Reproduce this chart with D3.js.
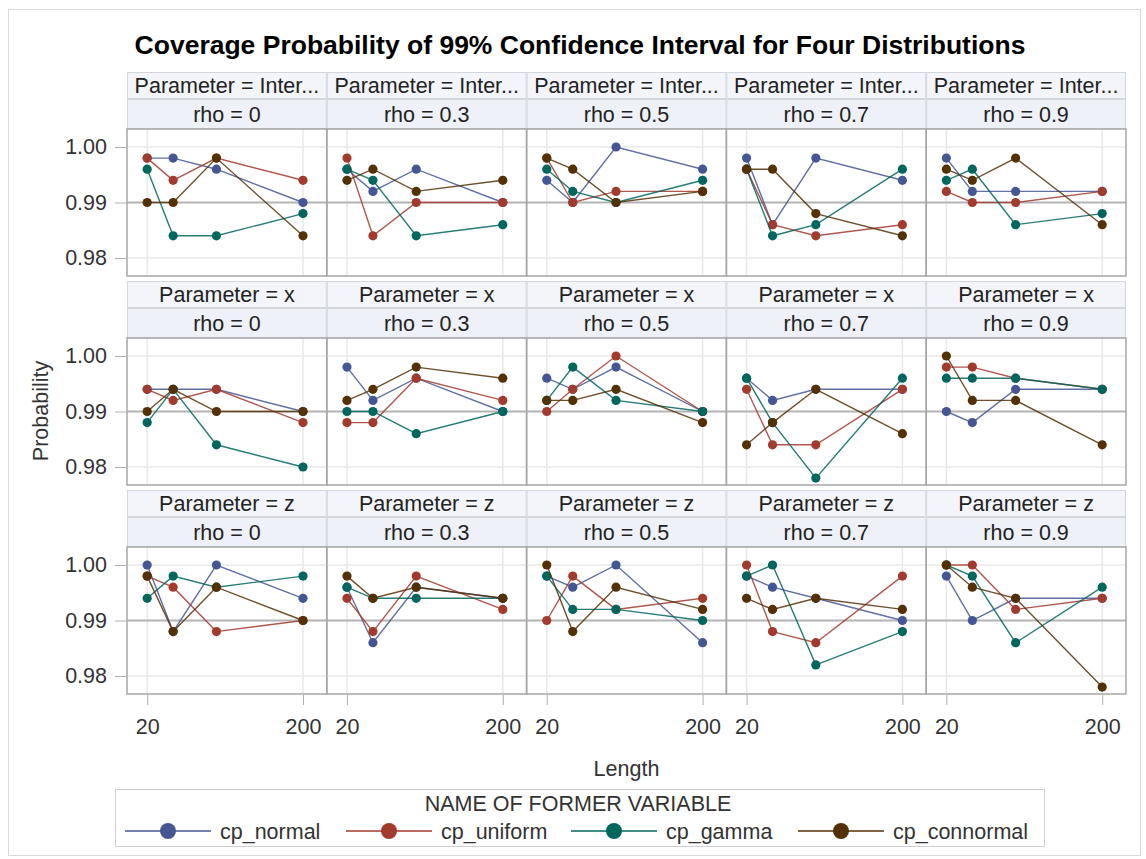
<!DOCTYPE html>
<html>
<head>
<meta charset="utf-8">
<script src="https://cdn.jsdelivr.net/npm/d3@7"></script>
<style>
  body { margin: 0; background: #fff; }
  text { font-family: "Liberation Sans", Arial, sans-serif; }
</style>
</head>
<body>
<div id="chart"></div>
<script>
// Data
var lengths = [20, 50, 100, 200];
var parameters = ["Intercept", "x", "z"];
var rhos = [0, 0.3, 0.5, 0.7, 0.9];
var seriesNames = ["cp_normal", "cp_uniform", "cp_gamma", "cp_connormal"];
var xTicks = [20, 200];
var yTicks = [0.98, 0.99, 1.00];

// each array: [parameter][rho] -> value at each length
var cpNormal = [
  [[0.998, 0.998, 0.996, 0.990], [0.996, 0.992, 0.996, 0.990], [0.994, 0.990, 1.000, 0.996], [0.998, 0.986, 0.998, 0.994], [0.998, 0.992, 0.992, 0.992]],
  [[0.994, 0.994, 0.994, 0.990], [0.998, 0.992, 0.996, 0.990], [0.996, 0.994, 0.998, 0.990], [0.996, 0.992, 0.994, 0.994], [0.990, 0.988, 0.994, 0.994]],
  [[1.000, 0.988, 1.000, 0.994], [0.996, 0.986, 0.996, 0.994], [0.998, 0.996, 1.000, 0.986], [0.998, 0.996, 0.994, 0.990], [0.998, 0.990, 0.994, 0.994]]
];
var cpUniform = [
  [[0.998, 0.994, 0.998, 0.994], [0.998, 0.984, 0.990, 0.990], [0.998, 0.990, 0.992, 0.992], [0.996, 0.986, 0.984, 0.986], [0.992, 0.990, 0.990, 0.992]],
  [[0.994, 0.992, 0.994, 0.988], [0.988, 0.988, 0.996, 0.992], [0.990, 0.994, 1.000, 0.990], [0.994, 0.984, 0.984, 0.994], [0.998, 0.998, 0.996, 0.994]],
  [[0.998, 0.996, 0.988, 0.990], [0.994, 0.988, 0.998, 0.992], [0.990, 0.998, 0.992, 0.994], [1.000, 0.988, 0.986, 0.998], [1.000, 1.000, 0.992, 0.994]]
];
var cpGamma = [
  [[0.996, 0.984, 0.984, 0.988], [0.996, 0.994, 0.984, 0.986], [0.996, 0.992, 0.990, 0.994], [0.996, 0.984, 0.986, 0.996], [0.994, 0.996, 0.986, 0.988]],
  [[0.988, 0.994, 0.984, 0.980], [0.990, 0.990, 0.986, 0.990], [0.992, 0.998, 0.992, 0.990], [0.996, 0.988, 0.978, 0.996], [0.996, 0.996, 0.996, 0.994]],
  [[0.994, 0.998, 0.996, 0.998], [0.996, 0.994, 0.994, 0.994], [0.998, 0.992, 0.992, 0.990], [0.998, 1.000, 0.982, 0.988], [1.000, 0.998, 0.986, 0.996]]
];
var cpConnormal = [
  [[0.990, 0.990, 0.998, 0.984], [0.994, 0.996, 0.992, 0.994], [0.998, 0.996, 0.990, 0.992], [0.996, 0.996, 0.988, 0.984], [0.996, 0.994, 0.998, 0.986]],
  [[0.990, 0.994, 0.990, 0.990], [0.992, 0.994, 0.998, 0.996], [0.992, 0.992, 0.994, 0.988], [0.984, 0.988, 0.994, 0.986], [1.000, 0.992, 0.992, 0.984]],
  [[0.998, 0.988, 0.996, 0.990], [0.998, 0.994, 0.996, 0.994], [1.000, 0.988, 0.996, 0.992], [0.994, 0.992, 0.994, 0.992], [1.000, 0.996, 0.994, 0.978]]
];
var allSeries = [cpNormal, cpUniform, cpGamma, cpConnormal];
var colors = ["#445694", "#A23A2E", "#01665E", "#543005"];

// Chart setup
var svgWidth = 1146;
var svgHeight = 859;
var fontSize = 21.5;

var grid = { left: 127, right: 1126, top: 72 };
var cellW = (grid.right - grid.left) / rhos.length;
var rowPitch = 209;
var head1 = 27, head2 = 30, plotH = 147;

var svg = d3.select("#chart")
  .append("svg")
  .attr("width", svgWidth)
  .attr("height", svgHeight);

// outer frame
svg.append("rect")
  .attr("x", 8.5).attr("y", 9.5)
  .attr("width", 1132).attr("height", 846)
  .attr("fill", "#fff")
  .attr("stroke", "#d9d9d9");

// title
svg.append("text")
  .attr("x", 580)
  .attr("y", 54)
  .attr("text-anchor", "middle")
  .attr("font-size", 26.5)
  .attr("font-weight", "bold")
  .attr("fill", "#000")
  .text("Coverage Probability of 99% Confidence Interval for Four Distributions");

// scales
var xScale = d3.scaleLinear()
  .domain([-3.3, 227.5])
  .range([0, cellW]);

var yScale = d3.scaleLinear()
  .domain([0.976757, 1.003243])
  .range([plotH, 0]);

var line = d3.line()
  .x((d, i) => xScale(lengths[i]))
  .y(d => yScale(d));

// shorten header text with "..." when it does not fit the cell
function fitText(sel, maxW) {
  sel.each(function() {
    var t = d3.select(this);
    var full = t.text();
    if (this.getComputedTextLength() <= maxW) return;
    var n = full.length;
    while (n > 0) {
      n--;
      t.text(full.slice(0, n) + "...");
      if (this.getComputedTextLength() <= maxW) break;
    }
  });
}

parameters.forEach(function(param, pi) {
  var rowTop = grid.top + pi * rowPitch;
  var plotTop = rowTop + head1 + head2;

  rhos.forEach(function(rho, ri) {
    var x0 = grid.left + ri * cellW;
    var cell = svg.append("g")
      .attr("transform", `translate(${x0}, ${rowTop})`);

    // header cells
    cell.append("rect")
      .attr("x", 0.5).attr("y", 0.5)
      .attr("width", cellW - 1).attr("height", head1 - 1)
      .attr("fill", "#f3f5fb").attr("stroke", "#d3d6dd");
    cell.append("rect")
      .attr("x", 0.5).attr("y", head1 + 0.5)
      .attr("width", cellW - 1).attr("height", head2 - 1)
      .attr("fill", "#eef1f8").attr("stroke", "#d3d6dd");

    cell.append("text")
      .attr("x", cellW / 2).attr("y", head1 / 2 + 7.5)
      .attr("text-anchor", "middle")
      .attr("font-size", fontSize)
      .attr("fill", "#222")
      .text("Parameter = " + param)
      .call(fitText, cellW - 6);

    cell.append("text")
      .attr("x", cellW / 2).attr("y", head1 + head2 / 2 + 7.5)
      .attr("text-anchor", "middle")
      .attr("font-size", fontSize)
      .attr("fill", "#222")
      .text("rho = " + rho);

    var plot = svg.append("g")
      .attr("transform", `translate(${x0}, ${plotTop})`);

    // grid lines
    plot.selectAll(".hgrid")
      .data([0.98, 1.00])
      .enter()
      .append("line")
      .attr("x1", 0).attr("x2", cellW)
      .attr("y1", d => yScale(d)).attr("y2", d => yScale(d))
      .attr("stroke", "#e8e8e8").attr("stroke-width", 1.5);

    plot.selectAll(".vgrid")
      .data(xTicks)
      .enter()
      .append("line")
      .attr("x1", d => xScale(d)).attr("x2", d => xScale(d))
      .attr("y1", 0).attr("y2", plotH)
      .attr("stroke", "#e8e8e8").attr("stroke-width", 1.5);

    // reference line at 0.99
    plot.append("line")
      .attr("x1", 0).attr("x2", cellW)
      .attr("y1", yScale(0.99)).attr("y2", yScale(0.99))
      .attr("stroke", "#b4b4b4").attr("stroke-width", 2);

    // series
    allSeries.forEach(function(series, si) {
      var vals = series[pi][ri];
      plot.append("path")
        .datum(vals)
        .attr("d", line)
        .attr("fill", "none")
        .attr("stroke", colors[si])
        .attr("stroke-opacity", 0.85)
        .attr("stroke-width", 1.4);
      plot.selectAll(".pt" + si)
        .data(vals)
        .enter()
        .append("circle")
        .attr("cx", (d, i) => xScale(lengths[i]))
        .attr("cy", d => yScale(d))
        .attr("r", 4.6)
        .attr("fill", colors[si]);
    });

    // plot border
    plot.append("rect")
      .attr("x", 0).attr("y", 0)
      .attr("width", cellW).attr("height", plotH)
      .attr("fill", "none")
      .attr("stroke", "#a6a6a6").attr("stroke-width", 1.5);
  });

  // y axis
  var yAxis = d3.axisLeft(yScale)
    .tickValues(yTicks)
    .tickFormat(d3.format(".2f"))
    .tickSize(11)
    .tickPadding(8);

  var yG = svg.append("g")
    .attr("transform", `translate(${grid.left - 1}, ${plotTop})`)
    .call(yAxis);
  yG.select(".domain").remove();
  yG.selectAll("line").attr("stroke", "#b0b0b0");
  yG.selectAll("text")
    .attr("font-size", fontSize)
    .attr("fill", "#333")
    .style("font-family", "Liberation Sans, Arial, sans-serif");
});

// x axes under the bottom row
var bottom = grid.top + 2 * rowPitch + head1 + head2 + plotH;
rhos.forEach(function(rho, ri) {
  var x0 = grid.left + ri * cellW;
  var xAxis = d3.axisBottom(xScale)
    .tickValues(xTicks)
    .tickFormat(d3.format("d"))
    .tickSize(10)
    .tickPadding(14);
  var xG = svg.append("g")
    .attr("transform", `translate(${x0}, ${bottom + 1})`)
    .call(xAxis);
  xG.select(".domain").remove();
  xG.selectAll("line").attr("stroke", "#b0b0b0");
  xG.selectAll("text")
    .attr("font-size", fontSize)
    .attr("fill", "#333")
    .style("font-family", "Liberation Sans, Arial, sans-serif");
});

// axis labels
svg.append("text")
  .attr("x", (grid.left + grid.right) / 2)
  .attr("y", 776)
  .attr("text-anchor", "middle")
  .attr("font-size", fontSize)
  .attr("fill", "#333")
  .text("Length");

svg.append("text")
  .attr("transform", "translate(48, 411) rotate(-90)")
  .attr("text-anchor", "middle")
  .attr("font-size", fontSize)
  .attr("fill", "#333")
  .text("Probability");

// legend
var legend = svg.append("g");
legend.append("rect")
  .attr("x", 115.5).attr("y", 789.5)
  .attr("width", 929).attr("height", 57)
  .attr("fill", "#fff")
  .attr("stroke", "#cfcfcf");

legend.append("text")
  .attr("x", 578)
  .attr("y", 811)
  .attr("text-anchor", "middle")
  .attr("font-size", fontSize)
  .attr("fill", "#333")
  .text("NAME OF FORMER VARIABLE");

var legendX = [125, 346, 571, 798];
seriesNames.forEach(function(name, si) {
  var item = legend.append("g")
    .attr("transform", `translate(${legendX[si]}, 831)`);
  item.append("line")
    .attr("x1", 0).attr("x2", 86)
    .attr("stroke", colors[si]).attr("stroke-width", 1.5);
  item.append("circle")
    .attr("cx", 43).attr("r", 8)
    .attr("fill", colors[si]);
  item.append("text")
    .attr("x", 95).attr("y", 7.5)
    .attr("font-size", fontSize)
    .attr("fill", "#333")
    .text(name);
});
</script>
</body>
</html>
